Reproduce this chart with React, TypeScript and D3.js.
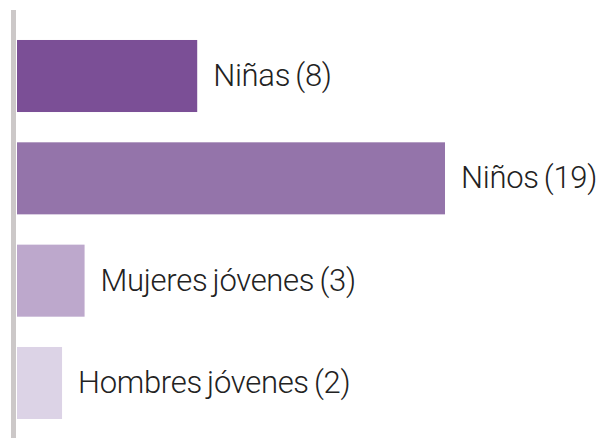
import React from "react";
import * as d3 from "d3";

const categories = ["Niñas", "Niños", "Mujeres jóvenes", "Hombres jóvenes"];
const values = [8, 19, 3, 2];
const colors = ["#7b4f96", "#9474aa", "#bda8cc", "#dcd3e6"];

export default function App() {
  const W = 602;
  const H = 440;
  const x = d3.scaleLinear().domain([0, 19]).range([17, 445]);
  const y = d3
    .scaleBand<string>()
    .domain(categories)
    .range([10, 449])
    .paddingInner(0.296)
    .paddingOuter(0.293);
  return (
    <svg
      width={W}
      height={H}
      style={{ position: "absolute", left: 0, top: 0 }}
      fontFamily="Roboto"
    >
      <rect x={11} y={10} width={5} height={428} fill="#ccc8c8" />
      {categories.map((c, i) => {
        const y0 = y(c) as number;
        const bw = y.bandwidth();
        return (
          <g key={c}>
            <rect
              x={x(0)}
              y={y0}
              width={x(values[i]) - x(0)}
              height={bw}
              fill={colors[i]}
            />
            <text
              x={x(values[i]) + 16}
              y={y0 + bw / 2 + 10}
              fontSize={31}
              fontWeight={300}
              letterSpacing={-0.3}
              wordSpacing={-2}
              fill="#222"
            >
              {`${c} (${values[i]})`}
            </text>
          </g>
        );
      })}
    </svg>
  );
}
